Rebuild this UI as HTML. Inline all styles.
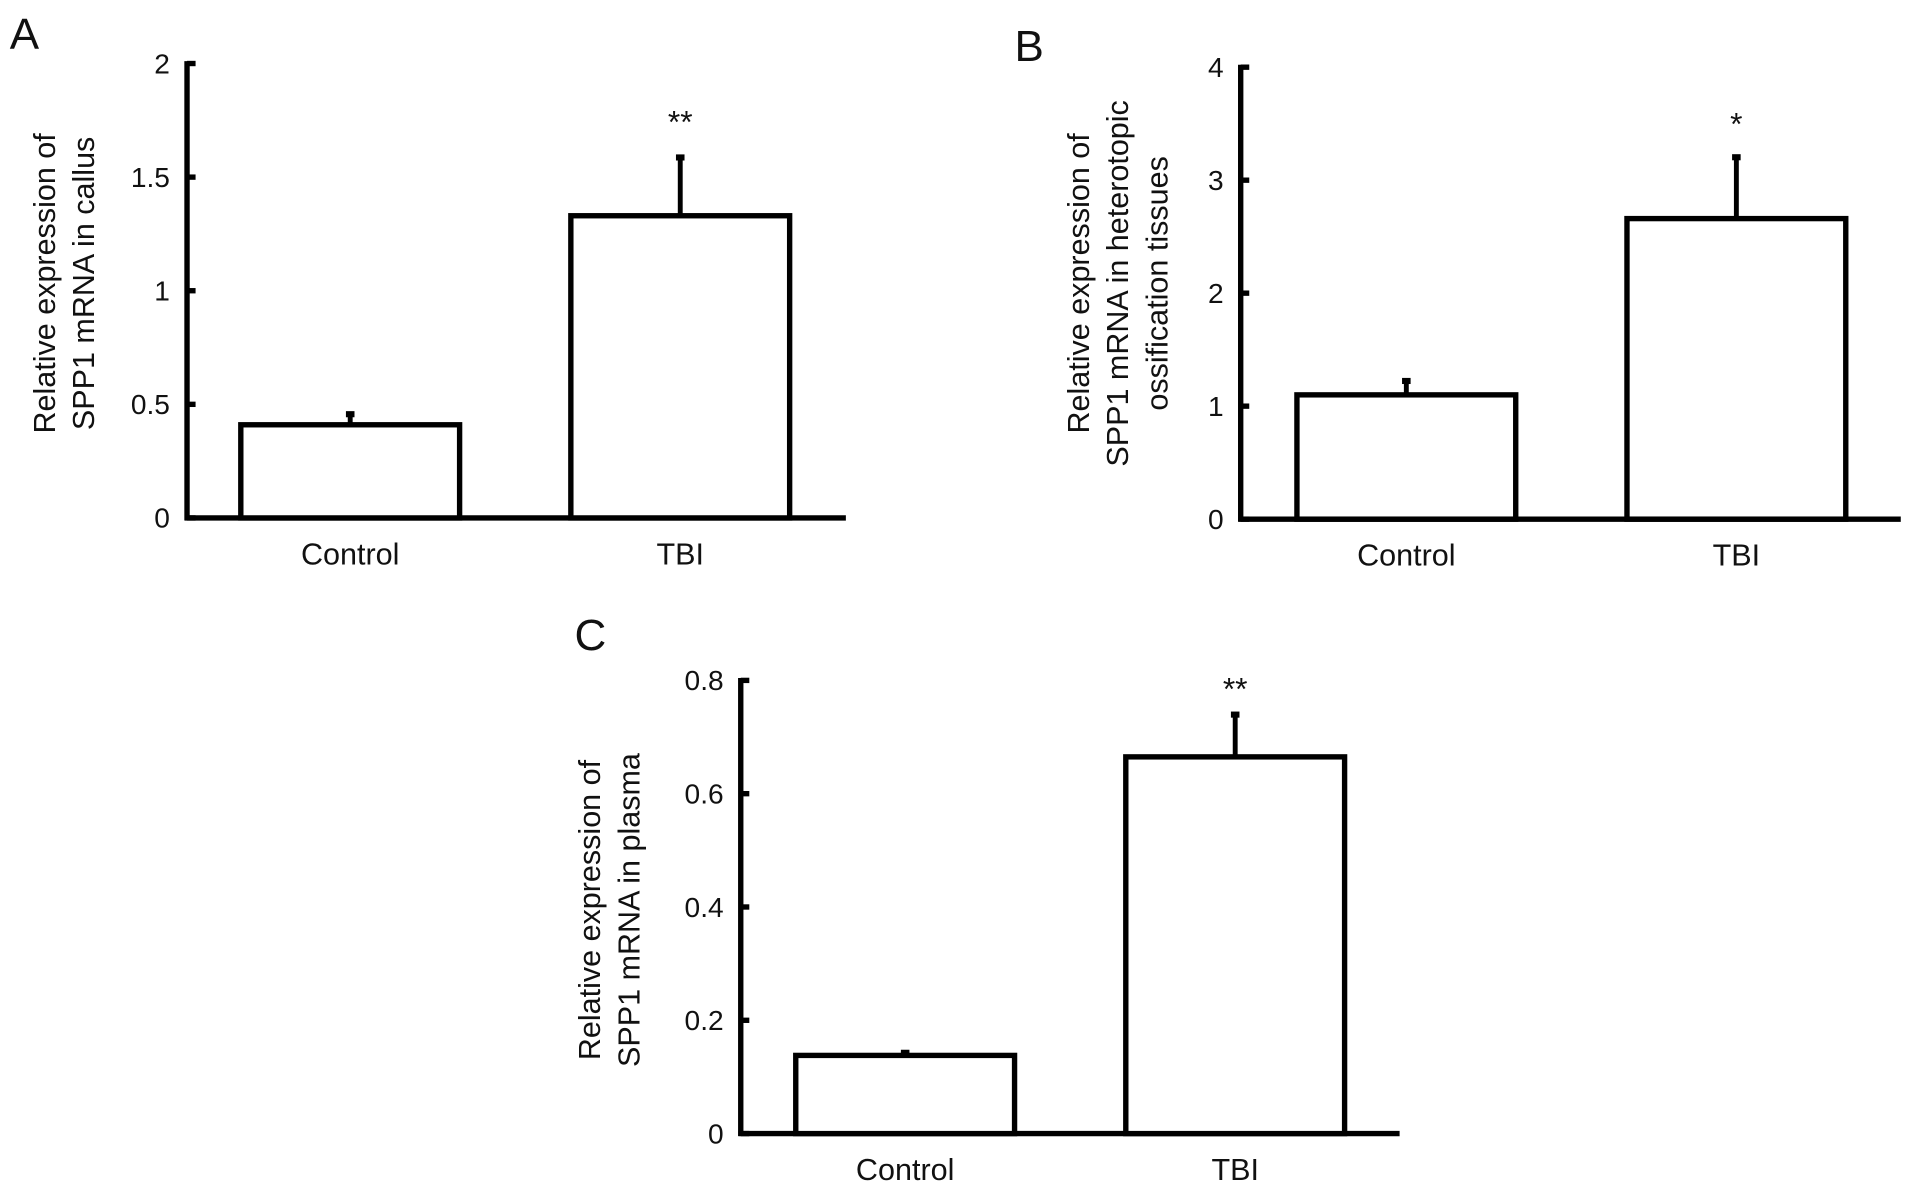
<!DOCTYPE html>
<html><head><meta charset="utf-8"><style>
html,body{margin:0;padding:0;background:#fff;}
svg{display:block;}
text{font-family:"Liberation Sans",Arial,sans-serif;fill:#111;}
</style></head><body>
<svg id="fig" width="1913" height="1191" viewBox="0 0 1565 975" preserveAspectRatio="none" xmlns="http://www.w3.org/2000/svg"></svg>
<script>
const categories = ["Control", "TBI"];
const valuesA = [0.41, 1.33];
const errorsA = [0.47, 1.60];
const ticksA = ["0", "0.5", "1", "1.5", "2"];
const tickValsA = [0, 0.5, 1, 1.5, 2];
const valuesB = [1.10, 2.66];
const errorsB = [1.25, 3.23];
const ticksB = ["0", "1", "2", "3", "4"];
const tickValsB = [0, 1, 2, 3, 4];
const valuesC = [0.138, 0.665];
const errorsC = [0.148, 0.745];
const ticksC = ["0", "0.2", "0.4", "0.6", "0.8"];
const tickValsC = [0, 0.2, 0.4, 0.6, 0.8];
const sigA = ["", "**"], sigB = ["", "*"], sigC = ["", "**"];

const NS = "http://www.w3.org/2000/svg";
const svg = document.getElementById('fig');
function mk(tag, attrs, parent) {
  const e = document.createElementNS(NS, tag);
  for (const k in attrs) e.setAttribute(k, attrs[k]);
  (parent || svg).appendChild(e);
  return e;
}
function panel(cfg) {
  const g = mk('g', {});
  
  
  const y = v => cfg.y0 - (v - 0) / cfg.max * (cfg.y0 - cfg.yTop);
  const lw = 4.4;
  const L = mk('text', {x: cfg.letter[0], y: cfg.letter[1], 'font-size': 36}, g);
  L.textContent = cfg.id.toUpperCase();
  
  
  const ya = mk('line', {x1: cfg.ax, y1: y(cfg.max) - 2, x2: cfg.ax, y2: cfg.y0 + 2, stroke: '#000', 'stroke-width': lw}, g);
  
  
  const xa = mk('line', {x1: cfg.ax - 2, y1: cfg.y0, x2: cfg.xEnd, y2: cfg.y0, stroke: '#000', 'stroke-width': lw}, g);
  
  
  cfg.tickVals.forEach((v, i) => {
    mk('line', {x1: cfg.ax, y1: y(v), x2: cfg.ax + 7, y2: y(v), stroke: '#000', 'stroke-width': lw}, g);
    const t = mk('text', {x: cfg.ax - 14, y: y(v) + 8, 'font-size': 23, 'text-anchor': 'end'}, g);
    t.textContent = cfg.ticks[i];
    
    
  });
  const tt = mk('text', {transform: `translate(${cfg.title[0]},${cfg.title[1]}) rotate(-90)`, 'font-size': 25, 'text-anchor': 'middle'}, g);
  
  
  cfg.titleLines.forEach((s, i) => {
    const ts = mk('tspan', {x: 0, dy: i === 0 ? 0 : 32}, tt);
    ts.textContent = s;
  });
  const bw = 179, gap = 270;
  categories.forEach((c, i) => {
    const bx = cfg.b0 + i * gap;
    const cx = bx + bw / 2;
    const eb = mk('line', {x1: cx, y1: y(cfg.vals[i]), x2: cx, y2: y(cfg.errs[i]) + 3, stroke: '#000', 'stroke-width': 4}, g);
    
    
    mk('rect', {x: cx - 3.5, y: y(cfg.errs[i]), width: 7, height: 5, fill: '#000'}, g);
    const r = mk('rect', {x: bx, y: y(cfg.vals[i]), width: bw, height: cfg.y0 - y(cfg.vals[i]), fill: '#fff', stroke: '#000', 'stroke-width': lw}, g);
    
    
    const cl = mk('text', {x: cx, y: cfg.y0 + 38, 'font-size': 25, 'text-anchor': 'middle'}, g);
    cl.textContent = c;
    
    
    if (cfg.sig[i]) {
      const s = mk('text', {x: cx, y: y(cfg.errs[i]) - 8 - cfg.sigOff, 'font-size': 26, 'text-anchor': 'middle'}, g);
      s.textContent = cfg.sig[i];
      
      
    }
  });
}
panel({id: 'a', letter: [8, 40], ax: 153, y0: 424, yTop: 52, xEnd: 692, max: 2, tickVals: tickValsA, ticks: ticksA,
  vals: valuesA, errs: errorsA, b0: 197, sig: sigA, sigOff: 10,
  title: [45, 232], titleLines: ["Relative expression of", "SPP1 mRNA in callus"]});
panel({id: 'b', letter: [830, 50], ax: 1015, y0: 425, yTop: 55, xEnd: 1555, max: 4, tickVals: tickValsB, ticks: ticksB,
  vals: valuesB, errs: errorsB, b0: 1061, sig: sigB, sigOff: 8,
  title: [891, 232], titleLines: ["Relative expression of", "SPP1 mRNA in heterotopic", "ossification tissues"]});
panel({id: 'c', letter: [470, 532], ax: 606, y0: 928, yTop: 557, xEnd: 1145, max: 0.8, tickVals: tickValsC, ticks: ticksC,
  vals: valuesC, errs: errorsC, b0: 651, sig: sigC, sigOff: 2,
  title: [491, 745], titleLines: ["Relative expression of", "SPP1 mRNA in plasma"]});
</script>
</body></html>
